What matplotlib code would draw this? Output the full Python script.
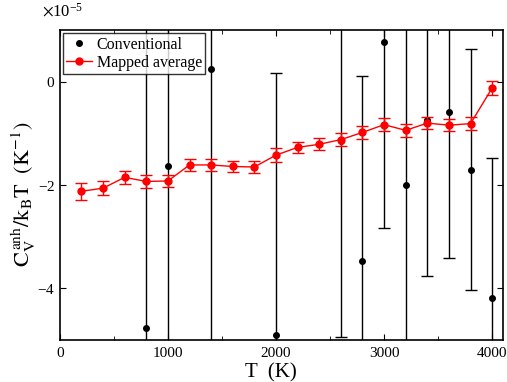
import numpy as np
import matplotlib.pyplot as plt
from matplotlib.ticker import MultipleLocator
from matplotlib.lines import Line2D

plt.rcParams['font.family'] = ['Liberation Serif', 'DejaVu Serif']
plt.rcParams['mathtext.fontset'] = 'stix'
plt.rcParams['axes.unicode_minus'] = False

# Conventional estimate (units of 1e-5 K^-1)
T_conv = [800, 1000, 1400, 2000, 2600, 2800, 3000, 3200, 3400, 3600, 3800, 4000]
cv_conv = [-4.77, -1.63, 0.24, -4.90, -1.15, -3.48, 0.77, -1.99, -0.74, -0.59, -1.70, -4.18]
err_conv = [6.5, 4.5, 6.0, 5.08, 3.79, 3.60, 3.61, 4.0, 3.02, 2.82, 2.33, 2.71]

# Mapped average
T_map = [200, 400, 600, 800, 1000, 1200, 1400, 1600, 1800, 2000,
         2200, 2400, 2600, 2800, 3000, 3200, 3400, 3600, 3800, 4000]
cv_map = [-2.12, -2.06, -1.85, -1.93, -1.92, -1.61, -1.61, -1.64, -1.65, -1.42,
          -1.27, -1.21, -1.12, -0.98, -0.83, -0.94, -0.80, -0.84, -0.81, -0.12]
err_map = [0.16, 0.13, 0.12, 0.12, 0.12, 0.12, 0.12, 0.11, 0.11, 0.14,
           0.11, 0.12, 0.12, 0.12, 0.12, 0.12, 0.12, 0.12, 0.12, 0.14]

scale = 1e-5

fig = plt.figure(figsize=(5.07, 3.82), dpi=100)
ax = fig.add_axes([0.118, 0.110, 0.874, 0.811])

ax.errorbar(T_conv, np.array(cv_conv) * scale, yerr=np.array(err_conv) * scale,
            fmt='o', color='black', ms=4, elinewidth=1, capsize=4, capthick=1,
            zorder=2)
ax.errorbar(T_map, np.array(cv_map) * scale, yerr=np.array(err_map) * scale,
            fmt='-o', color='red', ms=5, lw=1, elinewidth=1, capsize=4, capthick=1,
            zorder=3)

ax.set_xlim(0, 4100)
ax.set_ylim(-5e-5, 1e-5)
ax.xaxis.set_major_locator(MultipleLocator(1000))
ax.xaxis.set_minor_locator(MultipleLocator(500))
ax.yaxis.set_major_locator(MultipleLocator(2e-5))
ax.ticklabel_format(axis='y', style='sci', scilimits=(0, 0), useMathText=True)
ax.tick_params(which='both', direction='in', top=True, right=True, labelsize=11)
ax.tick_params(which='major', length=4)
ax.tick_params(which='minor', length=3)
ax.tick_params(axis='x', pad=5)
ax.yaxis.OFFSETTEXTPAD = 10
off = ax.yaxis.get_offset_text()
off.set_fontsize(12)
off.set_x(-0.04)
for s in ax.spines.values():
    s.set_linewidth(1.2)

ax.set_xlabel('T  (K)', fontsize=15)
ax.xaxis.set_label_coords(0.476, -0.075)
ax.set_ylabel(r'$\mathrm{C_V^{\,anh}/k_B T\ \ (K^{-1})}$', fontsize=16)
ax.yaxis.set_label_coords(-0.05, 0.47)

handles = [Line2D([], [], ls='none', marker='o', color='black', ms=4),
           Line2D([], [], ls='-', lw=1, marker='o', color='red', ms=5)]
leg = ax.legend(handles, ['Conventional', 'Mapped average'], loc='upper left',
                fontsize=11.5, frameon=True, fancybox=False, edgecolor='black',
                borderpad=0.2, handletextpad=0.3, labelspacing=0.15,
                borderaxespad=0.2, handlelength=1.6)
leg.get_frame().set_linewidth(1.0)

fig.savefig('out.png', dpi=100)
